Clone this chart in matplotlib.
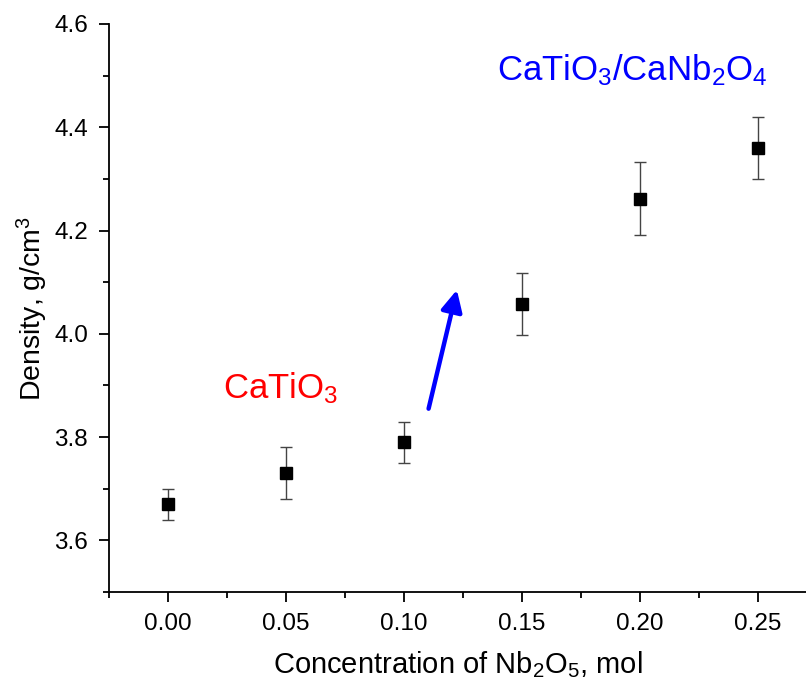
import matplotlib
matplotlib.use("Agg")
import matplotlib.pyplot as plt

plt.rcParams['font.family'] = ['Liberation Sans', 'DejaVu Sans']
plt.rcParams['mathtext.fontset'] = 'custom'
plt.rcParams['mathtext.rm'] = 'Liberation Sans'
plt.rcParams['mathtext.default'] = 'regular'

# data
conc = [0.00, 0.05, 0.10, 0.15, 0.20, 0.25]
density = [3.670, 3.730, 3.790, 4.058, 4.262, 4.360]
density_err = [0.030, 0.050, 0.040, 0.060, 0.070, 0.060]

xticks = [0.00, 0.05, 0.10, 0.15, 0.20, 0.25]
yticks = [3.6, 3.8, 4.0, 4.2, 4.4, 4.6]

fig = plt.figure(figsize=(8.06, 6.81), dpi=100)
ax = fig.add_axes([0.1352, 0.1307, 0.8648, 0.8341])

ax.errorbar(conc, density, yerr=density_err, fmt='s', color='black',
            ms=8.5, ecolor='#444444', elinewidth=1, capsize=4, capthick=1)

ax.set_xlim(-0.025, 0.2705)
ax.set_ylim(3.5, 4.6)
ax.set_xticks(xticks)
ax.set_xticklabels(["%.2f" % v for v in xticks])
ax.set_yticks(yticks)
ax.set_yticklabels(["%.1f" % v for v in yticks])
ax.set_xticks([-0.025, 0.025, 0.075, 0.125, 0.175, 0.225], minor=True)
ax.set_yticks([3.5, 3.7, 3.9, 4.1, 4.3, 4.5], minor=True)

ax.spines['top'].set_visible(False)
ax.spines['right'].set_visible(False)
ax.spines['left'].set_linewidth(1.3)
ax.spines['bottom'].set_linewidth(1.3)
ax.tick_params(which='major', direction='out', length=7, width=1.3, labelsize=17.5, pad=8)
ax.tick_params(which='minor', direction='out', length=4, width=1.3)

ax.set_xlabel("Concentration of Nb$_2$O$_5$, mol", fontsize=21, labelpad=10)
ax.set_ylabel("Density, g/cm$^3$", fontsize=20.5, labelpad=3)

ax.text(0.0235, 3.875, "CaTiO$_3$", color='red', fontsize=25)
ax.text(0.1395, 4.49, "CaTiO$_3$/CaNb$_2$O$_4$", color='blue', fontsize=25)

ax.annotate("", xy=(0.1225, 4.085), xytext=(0.1105, 3.855),
            arrowprops=dict(arrowstyle='-|>', color='blue', lw=3.2,
                            mutation_scale=32, shrinkA=0, shrinkB=0))

fig.savefig("out.png", dpi=100)
